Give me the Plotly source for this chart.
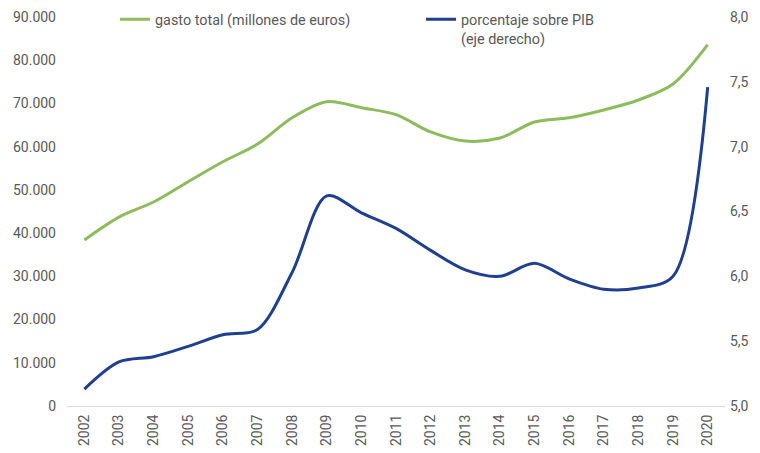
import plotly.graph_objects as go

anios = [str(a) for a in range(2002, 2021)]

# gasto total en millones de euros (eje izquierdo)
gasto_total = [38400, 43700, 47200, 51900, 56500, 60600, 66700, 70400, 69000, 67400,
               63400, 61300, 62000, 65700, 66700, 68500, 70800, 74500, 83600]

# porcentaje sobre PIB (eje derecho)
pct_pib = [5.13, 5.34, 5.38, 5.46, 5.55, 5.59, 6.03, 6.62, 6.49, 6.37,
           6.20, 6.05, 6.00, 6.10, 5.98, 5.90, 5.91, 6.00, 7.46]

verde = '#8dbc5c'
azul = '#1f3f8f'
gris = '#595959'

fig = go.Figure()
fig.add_trace(go.Scatter(x=anios, y=gasto_total, name='gasto total (millones de euros)',
                         mode='lines', legend='legend',
                         line=dict(color=verde, width=3, shape='spline', smoothing=0.9)))
fig.add_trace(go.Scatter(x=anios, y=pct_pib, name='porcentaje sobre PIB<br>(eje derecho)',
                         mode='lines', yaxis='y2', legend='legend2',
                         line=dict(color=azul, width=3, shape='spline', smoothing=0.9)))

leyenda = dict(orientation='h', xanchor='left', yanchor='top', y=1.035,
               itemwidth=30, valign='top', font=dict(size=14.4, color=gris),
               bgcolor='rgba(0,0,0,0)')

fig.update_layout(
    width=760, height=453,
    margin=dict(l=59, r=43, t=9, b=55, autoexpand=False),
    paper_bgcolor='white', plot_bgcolor='white',
    separators=',.',
    font=dict(family='Roboto', size=14, color=gris),
    showlegend=True,
    legend=dict(leyenda, x=0.073),
    legend2=dict(leyenda, x=0.538),
    xaxis=dict(type='category', range=[-0.5, 18.5], tickangle=-90, showgrid=False,
               showline=True, linecolor='#d9d9d9', linewidth=1, ticks='',
               ticklabelstandoff=2, tickfont=dict(size=14, color=gris)),
    yaxis=dict(range=[0, 90000], dtick=10000, tickformat=',d', showgrid=False,
               zeroline=False, showline=False, ticks='', ticklabelstandoff=10,
               tickfont=dict(size=14, color=gris)),
    yaxis2=dict(range=[5, 8], dtick=0.5, tickformat='.1f', overlaying='y', side='right',
                showgrid=False, zeroline=False, showline=False, ticks='',
                ticklabelstandoff=4, tickfont=dict(size=14, color=gris)),
)

fig.write_html('out.html')
